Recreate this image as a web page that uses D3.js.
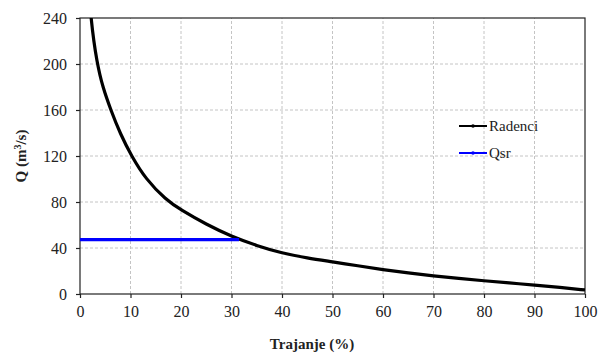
<!DOCTYPE html>
<html>
<head>
<meta charset="utf-8">
<script src="https://cdn.jsdelivr.net/npm/d3@7"></script>
<style>
  body { margin: 0; background: #fff; }
  svg text { font-family: "Liberation Serif", "Times New Roman", Times, serif; fill: #222; }
</style>
</head>
<body>
<div id="chart"></div>
<script>
// duration curve Radenci
var trajanje = [0.8, 2, 3.4, 4.5, 6.1, 8, 10.2, 13, 17, 20, 25, 30, 35, 40, 45, 50, 55, 60, 65, 70, 75, 80, 85, 90, 95, 100];
var radenci  = [330, 240, 200, 180, 160, 139, 120, 100, 82, 73, 60.5, 50, 42, 35.5, 31.3, 28, 24.5, 21.2, 18.3, 15.7, 13.5, 11.5, 9.6, 7.8, 5.8, 3.5];
var qsrX = [0, 31.5];
var qsrY = [47.3, 47.3];
var xTicks = [0, 10, 20, 30, 40, 50, 60, 70, 80, 90, 100];
var yTicks = [0, 40, 80, 120, 160, 200, 240];

var W = 598, H = 354;
var m = {left: 80, right: 13, top: 18, bottom: 60};

var svg = d3.select("#chart").append("svg").attr("width", W).attr("height", H)
   .attr("font-family", "Liberation Serif");

var x = d3.scaleLinear().domain([0, 100]).range([m.left, W - m.right]);
var y = d3.scaleLinear().domain([0, 240]).range([H - m.bottom, m.top]);

svg.append("clipPath").attr("id", "clip")
   .append("rect").attr("x", m.left).attr("y", m.top)
   .attr("width", W - m.right - m.left).attr("height", H - m.bottom - m.top);

// grid
svg.append("g").selectAll("line").data(xTicks.slice(1, -1)).enter().append("line")
   .attr("x1", d => x(d)).attr("x2", d => x(d)).attr("y1", y(0)).attr("y2", y(240))
   .attr("stroke", "#c4c4c4").attr("stroke-dasharray", "3,2");
svg.append("g").selectAll("line").data(yTicks.slice(1, -1)).enter().append("line")
   .attr("x1", x(0)).attr("x2", x(100)).attr("y1", d => y(d)).attr("y2", d => y(d))
   .attr("stroke", "#c4c4c4").attr("stroke-dasharray", "3,2");

// frame
svg.append("rect").attr("x", x(0)).attr("y", y(240))
   .attr("width", x(100) - x(0)).attr("height", y(0) - y(240))
   .attr("fill", "none").attr("stroke", "#222").attr("stroke-width", 1.2);

// axes
var xAxis = svg.append("g").attr("transform", "translate(0," + y(0) + ")")
   .call(d3.axisBottom(x).tickValues(xTicks).tickSize(4).tickPadding(8));
var yAxis = svg.append("g").attr("transform", "translate(" + x(0) + ",0)")
   .call(d3.axisLeft(y).tickValues(yTicks).tickSize(4).tickPadding(9));
[xAxis, yAxis].forEach(function (a) {
  a.attr("font-family", "Liberation Serif");
  a.select(".domain").remove();
  a.selectAll("line").attr("stroke", "#222").attr("stroke-width", 1.2);
  a.selectAll("text").style("font-size", "16px").attr("fill", "#222");
});

// lines
var line = d3.line().x(d => x(d[0])).y(d => y(d[1])).curve(d3.curveBasis);
var plot = svg.append("g").attr("clip-path", "url(#clip)");
plot.append("path").datum(d3.zip(trajanje, radenci))
    .attr("d", line).attr("fill", "none").attr("stroke", "#000").attr("stroke-width", 3.2);
plot.append("path").datum(d3.zip(qsrX, qsrY))
    .attr("d", d3.line().x(d => x(d[0])).y(d => y(d[1])))
    .attr("fill", "none").attr("stroke", "#0000ff").attr("stroke-width", 3.2);

// legend
var legend = [{name: "Radenci", color: "#000"}, {name: "Qsr", color: "#0000ff"}];
var lg = svg.append("g").selectAll("g").data(legend).enter().append("g")
   .attr("transform", (d, i) => "translate(459," + (126 + i * 27) + ")");
lg.append("line").attr("x1", 0).attr("x2", 28).attr("stroke", d => d.color).attr("stroke-width", 2);
lg.append("circle").attr("cx", 14).attr("r", 1.8).attr("fill", d => d.color);
lg.append("text").attr("x", 30).attr("dy", "0.35em").style("font-size", "15px").text(d => d.name);

// axis titles
svg.append("text").attr("x", 312).attr("y", 349).attr("text-anchor", "middle")
   .style("font-size", "15px").style("font-weight", "bold").text("Trajanje (%)");
var yl = svg.append("text").attr("transform", "translate(26,156) rotate(-90)")
   .attr("text-anchor", "middle").style("font-size", "15px").style("font-weight", "bold");
yl.append("tspan").text("Q (m");
yl.append("tspan").attr("dy", -5).style("font-size", "10px").text("3");
yl.append("tspan").attr("dy", 5).text("/s)");
</script>
</body>
</html>
